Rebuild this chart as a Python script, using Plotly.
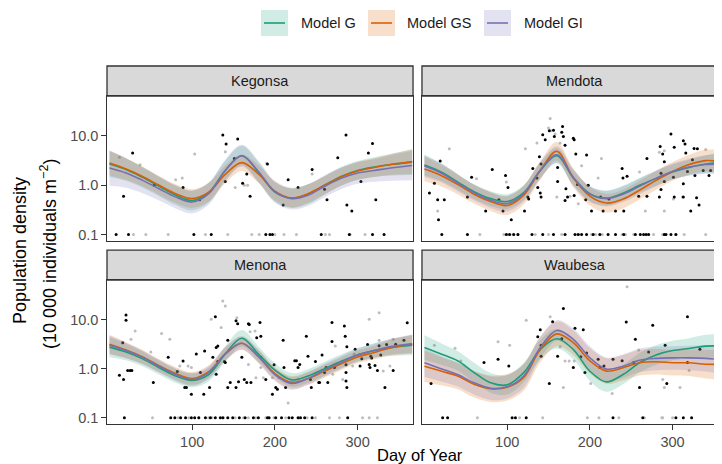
import plotly.graph_objects as go

# ---------------------------------------------------------------------------
# Data
# ---------------------------------------------------------------------------

LAKES = ["Kegonsa", "Mendota", "Menona", "Waubesa"]
MODELS = ["Model G", "Model GS", "Model GI"]

# Knot days where the smooth fits were read
DAYS = [0, 20, 40, 60, 80, 100, 120, 140, 160, 180, 200, 220, 240, 260, 280, 300, 320, 340, 366]

# Fitted values, log10 population density
FIT_G = {
    "Kegonsa": [0.43, 0.32, 0.16, -0.02, -0.2, -0.31, -0.15, 0.3, 0.6, 0.27, -0.14, -0.26, -0.18, 0.0, 0.18, 0.3, 0.37, 0.42, 0.47],
    "Mendota": [0.41, 0.27, 0.07, -0.13, -0.27, -0.33, -0.15, 0.3, 0.6, 0.15, -0.17, -0.26, -0.16, 0.0, 0.14, 0.27, 0.36, 0.43, 0.47],
    "Menona": [0.44, 0.34, 0.2, 0.02, -0.15, -0.24, -0.12, 0.3, 0.62, 0.3, -0.03, -0.23, -0.15, 0.0, 0.15, 0.28, 0.37, 0.43, 0.48],
    "Waubesa": [0.43, 0.3, 0.16, -0.08, -0.29, -0.33, -0.08, 0.39, 0.61, 0.39, -0.05, -0.27, -0.12, 0.12, 0.28, 0.37, 0.41, 0.46, 0.46],
}
FIT_GS = {
    "Kegonsa": [0.45, 0.33, 0.18, 0.0, -0.17, -0.27, -0.14, 0.22, 0.46, 0.23, -0.12, -0.26, -0.17, 0.0, 0.17, 0.29, 0.36, 0.42, 0.48],
    "Mendota": [0.33, 0.2, 0.02, -0.18, -0.33, -0.41, -0.2, 0.3, 0.69, 0.15, -0.22, -0.36, -0.28, -0.1, 0.1, 0.28, 0.42, 0.5, 0.46],
    "Menona": [0.5, 0.38, 0.24, 0.06, -0.1, -0.2, -0.06, 0.3, 0.52, 0.25, -0.1, -0.28, -0.2, -0.05, 0.1, 0.24, 0.33, 0.43, 0.5],
    "Waubesa": [0.05, -0.05, -0.15, -0.32, -0.41, -0.38, -0.18, 0.39, 0.71, 0.53, 0.16, -0.05, 0.02, 0.12, 0.14, 0.12, 0.12, 0.09, 0.09],
}
FIT_GI = {
    "Kegonsa": [0.35, 0.25, 0.1, -0.07, -0.24, -0.34, -0.17, 0.3, 0.6, 0.28, -0.13, -0.27, -0.2, -0.02, 0.14, 0.25, 0.3, 0.35, 0.4],
    "Mendota": [0.39, 0.25, 0.05, -0.15, -0.3, -0.37, -0.17, 0.3, 0.62, 0.16, -0.18, -0.27, -0.18, -0.02, 0.14, 0.28, 0.37, 0.42, 0.43],
    "Menona": [0.48, 0.37, 0.23, 0.05, -0.12, -0.22, -0.08, 0.3, 0.52, 0.25, -0.12, -0.3, -0.2, -0.03, 0.13, 0.28, 0.37, 0.45, 0.51],
    "Waubesa": [0.12, 0.0, -0.12, -0.29, -0.4, -0.37, -0.15, 0.43, 0.78, 0.6, 0.22, -0.01, 0.05, 0.17, 0.21, 0.22, 0.22, 0.21, 0.17],
}

# Half-width of the confidence band, log10 units
SE_G = {
    "Kegonsa": [0.26, 0.23, 0.21, 0.2, 0.2, 0.2, 0.2, 0.2, 0.2, 0.2, 0.2, 0.2, 0.2, 0.19, 0.19, 0.19, 0.2, 0.22, 0.26],
    "Mendota": [0.21, 0.18, 0.16, 0.15, 0.15, 0.15, 0.15, 0.15, 0.15, 0.15, 0.15, 0.15, 0.15, 0.15, 0.15, 0.15, 0.16, 0.18, 0.21],
    "Menona": [0.2, 0.17, 0.15, 0.14, 0.14, 0.14, 0.14, 0.16, 0.17, 0.15, 0.14, 0.14, 0.14, 0.14, 0.14, 0.14, 0.15, 0.17, 0.2],
    "Waubesa": [0.25, 0.22, 0.2, 0.2, 0.2, 0.2, 0.2, 0.2, 0.2, 0.2, 0.2, 0.2, 0.2, 0.2, 0.2, 0.2, 0.21, 0.23, 0.25],
}
SE_GS = {
    "Kegonsa": [0.25, 0.22, 0.2, 0.19, 0.19, 0.19, 0.19, 0.18, 0.17, 0.18, 0.19, 0.19, 0.19, 0.18, 0.18, 0.18, 0.19, 0.21, 0.25],
    "Mendota": [0.25, 0.22, 0.2, 0.19, 0.19, 0.19, 0.19, 0.19, 0.19, 0.19, 0.19, 0.19, 0.19, 0.19, 0.19, 0.19, 0.2, 0.22, 0.25],
    "Menona": [0.19, 0.16, 0.14, 0.13, 0.13, 0.13, 0.13, 0.13, 0.13, 0.13, 0.13, 0.13, 0.13, 0.13, 0.13, 0.13, 0.14, 0.16, 0.19],
    "Waubesa": [0.32, 0.29, 0.27, 0.27, 0.27, 0.27, 0.27, 0.26, 0.25, 0.25, 0.26, 0.26, 0.26, 0.26, 0.26, 0.26, 0.27, 0.29, 0.32],
}
SE_GI = {
    "Kegonsa": [0.36, 0.3, 0.26, 0.24, 0.23, 0.23, 0.22, 0.22, 0.22, 0.22, 0.22, 0.22, 0.22, 0.22, 0.22, 0.22, 0.23, 0.26, 0.3],
    "Mendota": [0.22, 0.19, 0.17, 0.16, 0.16, 0.16, 0.16, 0.17, 0.17, 0.17, 0.16, 0.16, 0.16, 0.16, 0.16, 0.16, 0.17, 0.19, 0.22],
    "Menona": [0.19, 0.16, 0.14, 0.13, 0.13, 0.13, 0.13, 0.14, 0.14, 0.14, 0.13, 0.13, 0.13, 0.13, 0.13, 0.13, 0.14, 0.16, 0.19],
    "Waubesa": [0.29, 0.26, 0.24, 0.24, 0.24, 0.24, 0.24, 0.22, 0.21, 0.22, 0.24, 0.24, 0.24, 0.24, 0.24, 0.24, 0.25, 0.27, 0.29],
}

# Observations (day, density); zeros are plotted at the 0.1 floor
FLOOR = 0.1
BLACK_PTS = {
    "Kegonsa": [(28, 4.5), (17, 0.6), (54, 1.0), (89, 0.9), (109, 0.51), (137, 10.5), (141, 6.9), (155, 8.7),
                (151, 3.5), (140, 1.2), (161, 1.1), (166, 1.7), (170, 0.6), (191, 2.7), (210, 0.4), (216, 1.3),
                (228, 0.9), (245, 2.1), (260, 0.83), (263, 0.51), (276, 3.6), (286, 10.5), (287, 0.4), (293, 0.3),
                (304, 1.2), (313, 4.5), (318, 7.0), (322, 0.51)],
    "Mendota": [(6, 0.7), (12, 1.1), (16, 0.51), (17, 0.2), (19, 3.1), (24, 0.51), (52, 0.58), (57, 1.46), (74, 0.3),
                (82, 2.1), (90, 0.51), (95, 0.3), (98, 1.58), (101, 0.9), (105, 0.2), (121, 0.3), (125, 0.58),
                (126, 0.53), (131, 2.2), (136, 1.4), (137, 0.9), (139, 3.8), (140, 0.7), (141, 0.58), (141, 2.7),
                (143, 10.6), (146, 8.4), (151, 12.8), (156, 13.0), (157, 9.7), (161, 2.3), (161, 1.2), (166, 11.9),
                (167, 15.5), (168, 9.7), (170, 6.5), (171, 0.85), (173, 0.58), (170, 0.49), (180, 9.0), (181, 8.4),
                (181, 0.62), (183, 4.3), (185, 1.04), (196, 4.1), (198, 1.0), (195, 0.51), (202, 0.3), (213, 0.58),
                (216, 0.3), (223, 0.53), (231, 0.3), (239, 2.2), (240, 1.4), (241, 0.3), (245, 1.53), (259, 0.6),
                (269, 0.6), (269, 3.5), (285, 6.1), (288, 4.3), (290, 3.0), (286, 1.76), (284, 0.58), (286, 0.82),
                (290, 1.2), (298, 11.0), (302, 5.9), (301, 1.46), (302, 0.58), (313, 8.0), (315, 6.9), (316, 4.5),
                (313, 1.07), (313, 0.58), (318, 1.9), (322, 0.3), (324, 3.3), (326, 5.6), (327, 1.58), (329, 0.56),
                (332, 0.4), (330, 5.5), (337, 2.0), (344, 1.58), (346, 2.0), (360, 5.5), (358, 2.2)],
    "Menona": [(20, 12.5), (20, 9.7), (16, 3.4), (12, 0.73), (17, 0.6), (22, 0.92), (25, 0.92), (27, 0.92), (53, 0.52),
               (71, 1.7), (82, 0.87), (89, 1.43), (91, 0.41), (93, 0.41), (99, 0.3), (105, 2.0), (110, 0.83),
               (114, 0.3), (115, 2.3), (121, 0.41), (125, 1.7), (128, 11.5), (129, 2.7), (129, 0.77), (131, 1.4),
               (131, 2.9), (139, 1.4), (140, 1.33), (143, 3.8), (143, 0.41), (146, 0.52), (153, 9.5), (153, 0.41),
               (155, 8.3), (156, 0.54), (160, 1.7), (163, 0.6), (166, 0.52), (168, 8.3), (169, 8.0), (171, 0.52),
               (178, 4.3), (182, 8.8), (183, 4.6), (183, 1.7), (189, 0.6), (197, 0.3), (199, 1.2), (201, 0.41),
               (203, 0.38), (210, 3.8), (211, 1.05), (213, 0.41), (224, 1.45), (226, 1.45), (228, 1.05), (230, 1.22),
               (238, 4.6), (240, 1.8), (244, 0.41), (243, 0.6), (249, 1.4), (253, 0.52), (254, 0.52), (257, 1.9),
               (260, 0.83), (262, 1.05), (264, 0.52), (269, 8.8), (269, 3.6), (272, 1.05), (284, 7.4), (285, 4.6),
               (287, 2.8), (286, 0.83), (287, 0.41), (286, 0.56), (286, 1.2), (297, 2.5), (303, 1.13), (305, 1.6),
               (312, 3.1), (314, 1.22), (315, 1.05), (316, 1.8), (317, 1.65), (321, 1.16), (324, 0.92), (326, 2.95),
               (328, 1.9), (333, 0.41), (335, 3.1), (343, 0.92), (346, 3.15), (356, 3.8), (360, 8.7)],
    "Waubesa": [(8, 0.5), (72, 1.33), (89, 1.55), (102, 1.13), (137, 4.5), (140, 6.2), (141, 3.0), (141, 1.8),
                (151, 0.5), (155, 9.1), (161, 1.8), (168, 17.0), (166, 4.1), (180, 1.05), (182, 6.7), (189, 1.76),
                (192, 6.2), (194, 0.83), (196, 2.1), (210, 1.55), (212, 1.05), (217, 1.13), (228, 1.55), (239, 1.45),
                (244, 9.0), (253, 1.33), (255, 4.0), (260, 0.41), (271, 2.2), (276, 7.7), (291, 3.0), (293, 0.5),
                (318, 11.5), (318, 1.33), (333, 2.5), (359, 7.7)],
}
GREY_PTS = {
    "Kegonsa": [(12, 3.7), (37, 2.6), (80, 1.3), (88, 1.4), (103, 4.3), (140, 4.8), (152, 0.9), (163, 1.0),
                (167, 1.0), (190, 2.8), (245, 1.7)],
    "Mendota": [(30, 5.5), (16, 0.3), (63, 1.35), (99, 1.16), (122, 5.5), (136, 7.2), (150, 14.5), (152, 22.7),
                (153, 12.8), (158, 11.0), (164, 7.2), (160, 0.58), (176, 0.6), (186, 0.42), (190, 2.5), (210, 1.4),
                (214, 3.5), (260, 1.85), (284, 4.7), (290, 5.0), (301, 0.53), (312, 0.58), (340, 5.3), (352, 7.1),
                (267, 0.3), (290, 0.3)],
    "Menona": [(31, 5.9), (26, 4.0), (50, 2.2), (63, 5.2), (73, 4.0), (85, 1.13), (95, 1.13), (99, 1.05),
               (123, 10.2), (135, 6.9), (137, 24.0), (140, 19.0), (154, 11.0), (168, 1.22), (170, 5.7), (176, 5.9),
               (177, 0.65), (183, 1.05), (186, 0.65), (197, 0.65), (205, 0.65), (216, 0.2), (222, 0.52), (228, 0.6),
               (270, 0.77), (273, 2.9), (274, 1.13), (282, 0.6), (294, 1.13), (296, 1.96), (302, 1.96), (314, 10.2),
               (326, 13.8), (331, 0.9), (339, 1.13), (343, 4.0), (326, 3.8)],
    "Waubesa": [(12, 3.0), (37, 2.6), (44, 1.43), (89, 3.55), (103, 3.0), (123, 9.7), (152, 11.5), (164, 2.8),
                (170, 1.43), (175, 1.43), (181, 1.43), (168, 0.41), (201, 0.5), (227, 0.31), (245, 47.0),
                (259, 2.4), (288, 0.6), (290, 0.41), (309, 0.41), (320, 0.92)],
}
BLACK_ZERO_DAYS = {
    "Kegonsa": [8, 23, 102, 123, 189, 194, 197, 256, 290, 318, 332],
    "Mendota": [21, 52, 99, 103, 108, 113, 130, 143, 156, 170, 182, 186, 190, 196, 204, 212, 222, 231, 241, 255,
                261, 265, 268, 271, 290, 292, 298, 304],
    "Menona": [18, 74, 79, 86, 92, 99, 103, 108, 116, 122, 128, 134, 137, 143, 149, 157, 164, 174, 180, 191, 193,
               201, 208, 217, 221, 228, 231, 236, 245, 288],
    "Waubesa": [22, 28, 106, 110, 123, 228, 264, 304, 313, 323],
}
GREY_ZERO_DAYS = {
    "Kegonsa": [29, 44, 71, 116, 143, 172, 181, 200, 211, 226, 261, 266, 291, 309],
    "Mendota": [67, 96, 101, 107, 113, 134, 150, 166, 185, 202, 207, 215, 239, 243, 253, 277, 288, 304, 314, 340],
    "Menona": [52, 83, 96, 108, 120, 124, 138, 152, 162, 168, 177, 189, 199, 213, 229, 239, 249, 266, 278, 306,
               314, 324],
    "Waubesa": [64, 115, 143, 197, 211, 235, 266, 287, 288, 300],
}

# ---------------------------------------------------------------------------
# Styling
# ---------------------------------------------------------------------------

FONT = "Liberation Sans, Arial, sans-serif"
COLORS = ["#1B9E77", "#D95F02", "#7570B3"]
FILLS = ["rgba(27,158,119,0.2)", "rgba(217,95,2,0.2)", "rgba(117,112,179,0.2)"]
BORDER = "#333333"
FITS = [FIT_G, FIT_GS, FIT_GI]
SES = [SE_G, SE_GS, SE_GI]

W, H = 722, 464
M_L, M_R, M_T, M_B = 99, 2, 57, 48
PW, PH = W - M_L - M_R, H - M_T - M_B
X_DOM = [[0.0, 0.4928], [0.5072, 1.0]]
Y_DOM = [[0.5097, 0.9136], [0.0, 0.4011]]
STRIP = 30 / 145  # strip height in panel-domain units


def _ax(i):
    return "" if i == 0 else str(i + 1)


def _px(x):
    return (x - M_L) / PW


def _py(y):
    return (H - M_B - y) / PH


fig = go.Figure()

for i, lake in enumerate(LAKES):
    xa, ya = "x" + _ax(i), "y" + _ax(i)

    gx = [d for d, _ in GREY_PTS[lake]] + GREY_ZERO_DAYS[lake]
    gy = [v for _, v in GREY_PTS[lake]] + [FLOOR] * len(GREY_ZERO_DAYS[lake])
    fig.add_trace(go.Scatter(x=gx, y=gy, mode="markers", xaxis=xa, yaxis=ya, showlegend=False,
                             marker=dict(size=3, color="#BDBDBD"), hoverinfo="skip"))
    bx = [d for d, _ in BLACK_PTS[lake]] + BLACK_ZERO_DAYS[lake]
    by = [v for _, v in BLACK_PTS[lake]] + [FLOOR] * len(BLACK_ZERO_DAYS[lake])
    fig.add_trace(go.Scatter(x=bx, y=by, mode="markers", xaxis=xa, yaxis=ya, showlegend=False,
                             marker=dict(size=3, color="black"), hoverinfo="skip"))

    for m in range(3):
        fit, se = FITS[m][lake], SES[m][lake]
        upper = [10 ** (f + s) for f, s in zip(fit, se)]
        lower = [10 ** (f - s) for f, s in zip(fit, se)]
        fig.add_trace(go.Scatter(x=DAYS, y=upper, mode="lines", line=dict(width=0, shape="spline"),
                                 xaxis=xa, yaxis=ya, showlegend=False, hoverinfo="skip"))
        fig.add_trace(go.Scatter(x=DAYS, y=lower, mode="lines", line=dict(width=0, shape="spline"),
                                 fill="tonexty", fillcolor=FILLS[m],
                                 xaxis=xa, yaxis=ya, showlegend=False, hoverinfo="skip"))

    for m in range(3):
        fit = FITS[m][lake]
        fig.add_trace(go.Scatter(x=DAYS, y=[10 ** f for f in fit], mode="lines", name=MODELS[m],
                                 line=dict(color=COLORS[m], width=1.6, shape="spline"),
                                 xaxis=xa, yaxis=ya, showlegend=False))

layout = dict(
    width=W, height=H,
    margin=dict(l=M_L, r=M_R, t=M_T, b=M_B),
    paper_bgcolor="white", plot_bgcolor="white",
    font=dict(family=FONT, color="#1A1A1A"),
    showlegend=False,
)
shapes, annotations = [], []
for i, lake in enumerate(LAKES):
    row, col = divmod(i, 2)
    a = _ax(i)
    layout["xaxis" + a] = dict(
        domain=X_DOM[col], anchor="y" + a, range=[-3, 367], tickvals=[100, 200, 300],
        showticklabels=row == 1, ticks="outside" if row == 1 else "", ticklen=4.5, tickcolor=BORDER,
        tickwidth=1.2, tickfont=dict(size=14.5, color="#4D4D4D"),
        showline=True, mirror=True, linecolor=BORDER, linewidth=1.3, showgrid=False, zeroline=False,
    )
    layout["yaxis" + a] = dict(
        domain=Y_DOM[row], anchor="x" + a, type="log", range=[-1.13, 1.81],
        tickvals=[0.1, 1, 10], ticktext=["0.1", "1.0", "10.0"],
        showticklabels=col == 0, ticks="outside" if col == 0 else "", ticklen=4.5, tickcolor=BORDER,
        tickwidth=1.2, tickfont=dict(size=14.5, color="#4D4D4D"),
        showline=True, mirror=True, linecolor=BORDER, linewidth=1.3, showgrid=False, zeroline=False,
    )
    shapes.append(dict(type="rect", xref="x" + a + " domain", yref="y" + a + " domain",
                       x0=0, x1=1, y0=1, y1=1 + STRIP, fillcolor="#D9D9D9",
                       line=dict(color=BORDER, width=1.3), layer="below"))
    annotations.append(dict(text=lake, xref="x" + a + " domain", yref="y" + a + " domain",
                            x=0.5, y=1 + STRIP / 2, xanchor="center", yanchor="middle", showarrow=False,
                            font=dict(size=14.5, color="#1A1A1A")))

# Axis titles
annotations.append(dict(text="Day of Year", xref="paper", yref="paper", x=_px(412), y=_py(447),
                        xanchor="center", yanchor="middle", showarrow=False,
                        font=dict(size=16.5, color="black")))
annotations.append(dict(text="Population density", xref="paper", yref="paper",
                        x=_px(12), y=_py(242), xanchor="center", yanchor="middle", textangle=-90,
                        showarrow=False, font=dict(size=18, color="black")))
annotations.append(dict(text="(10 000 individuals m<sup>\u22122</sup>)", xref="paper", yref="paper",
                        x=_px(40), y=_py(246), xanchor="center", yanchor="middle", textangle=-90,
                        showarrow=False, font=dict(size=18, color="black")))

# Legend, drawn by hand: pale band key with the line through it
legend_keys = [(253, 291), (360, 397), (476, 514)]
for m, (kx, tx) in enumerate(legend_keys):
    x0, x1 = _px(kx), _px(kx + 27)
    y0, y1 = _py(28), _py(2)
    shapes.append(dict(type="rect", xref="paper", yref="paper", x0=x0, x1=x1, y0=y0, y1=y1,
                       fillcolor=FILLS[m], line=dict(width=0)))
    shapes.append(dict(type="line", xref="paper", yref="paper", x0=_px(kx + 3), x1=_px(kx + 24),
                       y0=_py(15), y1=_py(15), line=dict(color=COLORS[m], width=1.6)))
    annotations.append(dict(text=MODELS[m], xref="paper", yref="paper", x=_px(tx), y=_py(15),
                            xanchor="left", yanchor="middle", showarrow=False,
                            font=dict(size=14.5, color="#1A1A1A")))

layout["shapes"] = shapes
layout["annotations"] = annotations
fig.update_layout(**layout)

fig.write_html("out.html")
